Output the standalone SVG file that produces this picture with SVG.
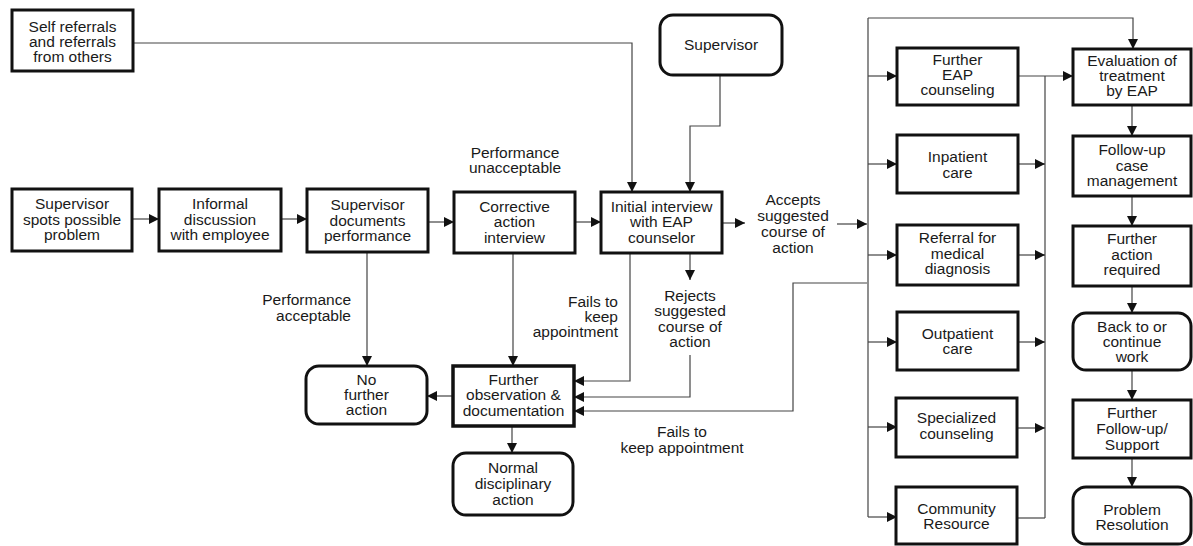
<svg xmlns="http://www.w3.org/2000/svg" width="1193" height="546" viewBox="0 0 1193 546">
<defs>
<marker id="ah" markerUnits="userSpaceOnUse" markerWidth="11" markerHeight="10" refX="10" refY="5" orient="auto">
<path d="M0,0 L10,5 L0,10 Z" fill="#111"/>
</marker>
<style>
.box{fill:#fff;stroke:#111;stroke-width:3}
.t{font-family:"Liberation Sans",Arial,Helvetica,sans-serif;font-size:15.5px;fill:#1a1a1a;text-anchor:middle}
.lbl{font-family:"Liberation Sans",Arial,Helvetica,sans-serif;font-size:15.5px;fill:#1a1a1a}
.c{fill:none;stroke:#444;stroke-width:1.2}
.a{marker-end:url(#ah)}
</style>
</defs>
<rect width="1193" height="546" fill="#fff"/>

<g id="connectors">
<polyline class="c a" points="133,43 632,43 632,192"/>
<polyline class="c a" points="720,75 720,126 690,126 690,192"/>
<line class="c a" x1="132" y1="219" x2="159" y2="219"/>
<line class="c a" x1="281" y1="219" x2="307" y2="219"/>
<line class="c a" x1="428" y1="222" x2="454" y2="222"/>
<line class="c a" x1="575" y1="222" x2="601" y2="222"/>
<line class="c a" x1="722" y1="223" x2="745" y2="223"/>
<line class="c a" x1="837" y1="224" x2="867" y2="224"/>
<line class="c a" x1="367" y1="252" x2="367" y2="366"/>
<line class="c a" x1="513" y1="253" x2="513" y2="366"/>
<polyline class="c a" points="630,253 630,381 574,381"/>
<line class="c a" x1="690" y1="253" x2="690" y2="280"/>
<polyline class="c a" points="690,355 690,397 574,397"/>
<polyline class="c a" points="867,283 793,283 793,411 574,411"/>
<line class="c a" x1="453" y1="396" x2="427" y2="396"/>
<line class="c a" x1="512" y1="426" x2="512" y2="453"/>
<line class="c" x1="868" y1="18" x2="868" y2="517"/>
<polyline class="c a" points="868,18 1133,18 1133,49"/>
<line class="c a" x1="868" y1="76" x2="897" y2="76"/>
<line class="c a" x1="868" y1="164" x2="897" y2="164"/>
<line class="c a" x1="868" y1="255" x2="897" y2="255"/>
<line class="c a" x1="868" y1="342" x2="897" y2="342"/>
<line class="c a" x1="868" y1="427" x2="897" y2="427"/>
<line class="c a" x1="868" y1="517" x2="897" y2="517"/>
<line class="c a" x1="1018" y1="76" x2="1073" y2="76"/>
<line class="c" x1="1045" y1="76" x2="1045" y2="518"/>
<line class="c" x1="1017" y1="518" x2="1045" y2="518"/>
<line class="c a" x1="1018" y1="164" x2="1045" y2="164"/>
<line class="c a" x1="1018" y1="255" x2="1045" y2="255"/>
<line class="c a" x1="1018" y1="342" x2="1045" y2="342"/>
<line class="c a" x1="1018" y1="428" x2="1045" y2="428"/>
<line class="c a" x1="1132" y1="105" x2="1132" y2="136"/>
<line class="c a" x1="1132" y1="196" x2="1132" y2="226"/>
<line class="c a" x1="1132" y1="286" x2="1132" y2="313"/>
<line class="c a" x1="1132" y1="370" x2="1132" y2="400"/>
<line class="c a" x1="1132" y1="458" x2="1132" y2="487"/>
</g>

<g id="labels">
<text class="t"><tspan x="515" y="158">Performance</tspan><tspan x="515" y="173">unacceptable</tspan></text>
<text class="lbl" text-anchor="end"><tspan x="351" y="305">Performance</tspan><tspan x="351" y="321">acceptable</tspan></text>
<text class="lbl" text-anchor="end"><tspan x="618" y="307">Fails to</tspan><tspan x="618" y="322">keep</tspan><tspan x="618" y="337">appointment</tspan></text>
<text class="t"><tspan x="690" y="301">Rejects</tspan><tspan x="690" y="316">suggested</tspan><tspan x="690" y="332">course of</tspan><tspan x="690" y="347">action</tspan></text>
<text class="t"><tspan x="793" y="205">Accepts</tspan><tspan x="793" y="221">suggested</tspan><tspan x="793" y="237">course of</tspan><tspan x="793" y="253">action</tspan></text>
<text class="t"><tspan x="682" y="437">Fails to</tspan><tspan x="682" y="453">keep appointment</tspan></text>
</g>

<g id="self-referrals"><rect class="box" x="12" y="10" width="121" height="61"/>
<text class="t"><tspan x="72.5" y="32">Self referrals</tspan><tspan x="72.5" y="47">and referrals</tspan><tspan x="72.5" y="62">from others</tspan></text></g>

<g id="supervisor"><rect class="box" x="660" y="15" width="122" height="60" rx="13"/>
<text class="t" x="721" y="50">Supervisor</text></g>

<g id="spots"><rect class="box" x="12" y="189" width="120" height="62"/>
<text class="t"><tspan x="72" y="209">Supervisor</tspan><tspan x="72" y="225">spots possible</tspan><tspan x="72" y="240">problem</tspan></text></g>

<g id="informal"><rect class="box" x="159" y="189" width="122" height="62"/>
<text class="t"><tspan x="220" y="209">Informal</tspan><tspan x="220" y="225">discussion</tspan><tspan x="220" y="240">with employee</tspan></text></g>

<g id="supdocs"><rect class="box" x="307" y="189" width="121" height="63"/>
<text class="t"><tspan x="367.5" y="210">Supervisor</tspan><tspan x="367.5" y="226">documents</tspan><tspan x="367.5" y="241">performance</tspan></text></g>

<g id="corrective"><rect class="box" x="454" y="192" width="121" height="61"/>
<text class="t"><tspan x="514.5" y="212">Corrective</tspan><tspan x="514.5" y="227">action</tspan><tspan x="514.5" y="243">interview</tspan></text></g>

<g id="initial"><rect class="box" x="601" y="192" width="121" height="61"/>
<text class="t"><tspan x="661.5" y="212">Initial interview</tspan><tspan x="661.5" y="227">with EAP</tspan><tspan x="661.5" y="243">counselor</tspan></text></g>

<g id="no-further"><rect class="box" x="306" y="366" width="121" height="58" rx="13"/>
<text class="t"><tspan x="366.5" y="385">No</tspan><tspan x="366.5" y="400">further</tspan><tspan x="366.5" y="415">action</tspan></text></g>

<g id="further-obs"><rect class="box" x="453" y="366" width="121" height="60" style="stroke-width:3.5"/>
<text class="t"><tspan x="513.5" y="385">Further</tspan><tspan x="513.5" y="400">observation &amp;</tspan><tspan x="513.5" y="416">documentation</tspan></text></g>

<g id="normal"><rect class="box" x="453" y="453" width="120" height="62" rx="13"/>
<text class="t"><tspan x="513" y="473">Normal</tspan><tspan x="513" y="489">disciplinary</tspan><tspan x="513" y="505">action</tspan></text></g>

<g id="eap"><rect class="box" x="897" y="48" width="121" height="57"/>
<text class="t"><tspan x="957.5" y="65">Further</tspan><tspan x="957.5" y="80">EAP</tspan><tspan x="957.5" y="95">counseling</tspan></text></g>

<g id="inpatient"><rect class="box" x="897" y="135" width="121" height="58"/>
<text class="t"><tspan x="957.5" y="162">Inpatient</tspan><tspan x="957.5" y="178">care</tspan></text></g>

<g id="referral"><rect class="box" x="897" y="225" width="121" height="60"/>
<text class="t"><tspan x="957.5" y="243">Referral for</tspan><tspan x="957.5" y="259">medical</tspan><tspan x="957.5" y="274">diagnosis</tspan></text></g>

<g id="outpatient"><rect class="box" x="897" y="312" width="121" height="58"/>
<text class="t"><tspan x="957.5" y="339">Outpatient</tspan><tspan x="957.5" y="354">care</tspan></text></g>

<g id="specialized"><rect class="box" x="896" y="398" width="121" height="59"/>
<text class="t"><tspan x="956.5" y="423">Specialized</tspan><tspan x="956.5" y="439">counseling</tspan></text></g>

<g id="community"><rect class="box" x="896" y="487" width="121" height="57"/>
<text class="t"><tspan x="956.5" y="514">Community</tspan><tspan x="956.5" y="529">Resource</tspan></text></g>

<g id="evaluation"><rect class="box" x="1073" y="49" width="118" height="56"/>
<text class="t"><tspan x="1132" y="66">Evaluation of</tspan><tspan x="1132" y="81">treatment</tspan><tspan x="1132" y="96">by EAP</tspan></text></g>

<g id="followup"><rect class="box" x="1073" y="136" width="118" height="60"/>
<text class="t"><tspan x="1132" y="155">Follow-up</tspan><tspan x="1132" y="171">case</tspan><tspan x="1132" y="186">management</tspan></text></g>

<g id="further-action"><rect class="box" x="1073" y="226" width="118" height="60"/>
<text class="t"><tspan x="1132" y="244">Further</tspan><tspan x="1132" y="260">action</tspan><tspan x="1132" y="275">required</tspan></text></g>

<g id="back-to-work"><rect class="box" x="1073" y="313" width="118" height="57" rx="13"/>
<text class="t"><tspan x="1132" y="332">Back to or</tspan><tspan x="1132" y="347">continue</tspan><tspan x="1132" y="362">work</tspan></text></g>

<g id="further-follow"><rect class="box" x="1073" y="400" width="118" height="58"/>
<text class="t"><tspan x="1132" y="418">Further</tspan><tspan x="1132" y="434">Follow-up/</tspan><tspan x="1132" y="450">Support</tspan></text></g>

<g id="problem-resolution"><rect class="box" x="1073" y="487" width="118" height="57" rx="13"/>
<text class="t"><tspan x="1132" y="515">Problem</tspan><tspan x="1132" y="530">Resolution</tspan></text></g>
</svg>
